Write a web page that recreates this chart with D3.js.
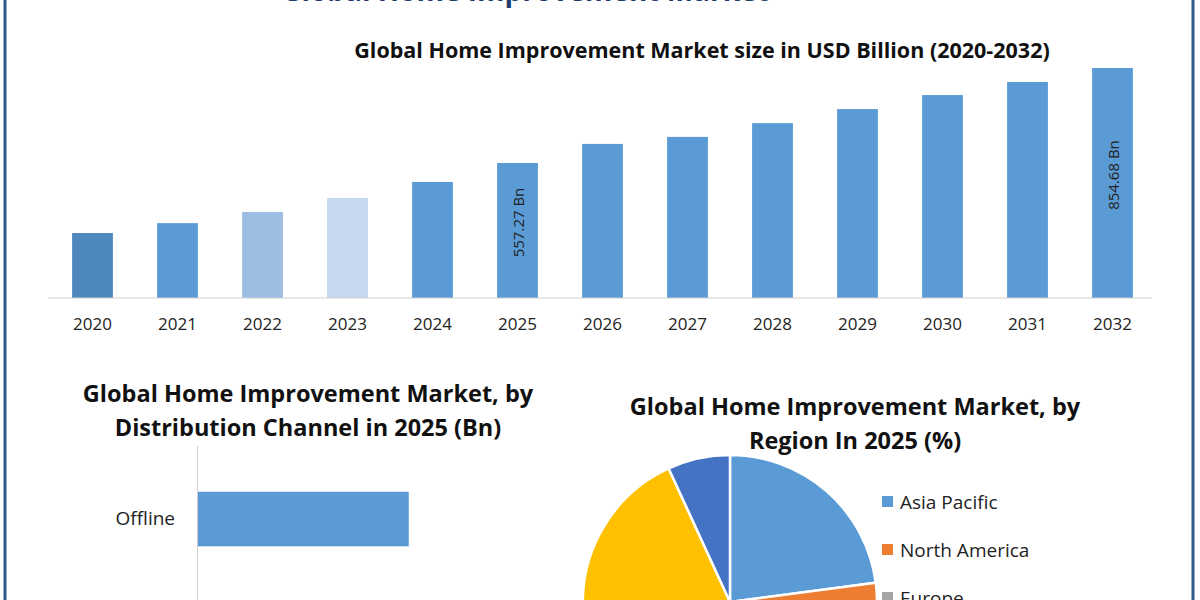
<!DOCTYPE html>
<html><head><meta charset="utf-8">
<script src="https://cdn.jsdelivr.net/npm/d3@7"></script>
<style>body{margin:0;background:#fff}svg{display:block;font-family:"Open Sans",sans-serif}</style>
</head><body><svg id="c" width="1200" height="600"></svg>
<script>
const years=["2020","2021","2022","2023","2024","2025","2026","2027","2028","2029","2030","2031","2032"];
const marketSize=[338,369,404,448,498,557.27,617,639,682,726,770,811,854.68];
const barColors=["#4e88bd","#5b9bd5","#9dbde2","#c5d8ef","#5b9bd5","#5b9bd5","#5b9bd5","#5b9bd5","#5b9bd5","#5b9bd5","#5b9bd5","#5b9bd5","#5b9bd5"];
const labeled={"2025":"557.27 Bn","2032":"854.68 Bn"};
const channels=["Offline","Online"];
const channelValues=[350,250];
const regions=["Asia Pacific","North America","Europe","Middle East and Africa","South America"];
const regionShares=[22.9,26,23.5,20.75,6.85];
const regionColors=["#5b9bd5","#ed7d31","#a5a5a5","#ffc000","#4472c4"];

const svg=d3.select("#c");
svg.append("rect").attr("x",5).attr("y",-5).attr("width",1188).attr("height",620).attr("fill","none").attr("stroke","#2f5b8a").attr("stroke-width",3);
svg.append("text").attr("x",525).attr("y",1).attr("text-anchor","middle").attr("font-size",28).attr("font-weight","bold").attr("fill","#1f3b6e").text("Global Home Improvement Market");

svg.append("text").attr("x",702).attr("y",58).attr("text-anchor","middle").attr("font-size",21.5).attr("font-weight","bold").attr("fill","#111").text("Global Home Improvement Market size in USD Billion (2020-2032)");
const x=d3.scaleBand().domain(years).range([50,1155]).paddingInner(0.52).paddingOuter(0.26);
const y=d3.scaleLinear().domain([134.6,854.68]).range([298,68]);
svg.selectAll(".b").data(years).join("rect").attr("x",d=>x(d)).attr("width",x.bandwidth())
 .attr("y",(d,i)=>y(marketSize[i])).attr("height",(d,i)=>298-y(marketSize[i])).attr("fill",(d,i)=>barColors[i]);
const ax=svg.append("g").attr("transform","translate(0,298)").call(d3.axisBottom(x).tickSize(0).tickPadding(20));
ax.select(".domain").attr("stroke","#d0d0d0").attr("d","M48,0H1152");
ax.selectAll("text").attr("font-size",17).attr("fill","#222").attr("font-family","Open Sans");
years.forEach((d,i)=>{ if(labeled[d]){
 const cx=x(d)+x.bandwidth()/2, my=(y(marketSize[i])+298)/2-8;
 svg.append("text").attr("transform",`translate(${cx+6},${my}) rotate(-90)`).attr("text-anchor","middle").attr("font-size",15).attr("fill","#222").text(labeled[d]);
}});

svg.append("text").attr("x",308).attr("y",402).attr("text-anchor","middle").attr("font-size",23.5).attr("font-weight","bold").attr("fill","#111").text("Global Home Improvement Market, by");
svg.append("text").attr("x",308).attr("y",436).attr("text-anchor","middle").attr("font-size",23.5).attr("font-weight","bold").attr("fill","#111").text("Distribution Channel in 2025 (Bn)");
const cy=d3.scaleBand().domain(channels).range([445,723]).paddingInner(0.58).paddingOuter(0.36);
const cx=d3.scaleLinear().domain([0,600]).range([197,560]);
svg.selectAll(".h").data(channels).join("rect").attr("x",197).attr("y",d=>cy(d)).attr("height",cy.bandwidth())
 .attr("width",(d,i)=>cx(channelValues[i])-197).attr("fill","#5b9bd5");
const ay=svg.append("g").attr("transform","translate(197,0)").call(d3.axisLeft(cy).tickSize(0).tickPadding(22));
ay.select(".domain").attr("stroke","#d0d0d0");
ay.selectAll("text").attr("font-size",19).attr("fill","#222").attr("font-family","Open Sans");

svg.append("text").attr("x",855).attr("y",415).attr("text-anchor","middle").attr("font-size",23.5).attr("font-weight","bold").attr("fill","#111").text("Global Home Improvement Market, by");
svg.append("text").attr("x",855).attr("y",449).attr("text-anchor","middle").attr("font-size",23.5).attr("font-weight","bold").attr("fill","#111").text("Region In 2025 (%)");
const pie=d3.pie().sort(null)(regionShares);
const arc=d3.arc().innerRadius(0).outerRadius(147);
svg.append("g").attr("transform","translate(730,602)").selectAll("path").data(pie).join("path")
 .attr("d",arc).attr("fill",(d,i)=>regionColors[i]).attr("stroke","#fff").attr("stroke-width",2.5);
const lg=svg.append("g");
regions.forEach((r,i)=>{
 const ly=502+i*48;
 lg.append("rect").attr("x",882).attr("y",ly-6).attr("width",11).attr("height",11).attr("fill",regionColors[i]);
 lg.append("text").attr("x",900).attr("y",ly+7).attr("font-size",19).attr("fill","#222").text(r);
});
</script></body></html>
